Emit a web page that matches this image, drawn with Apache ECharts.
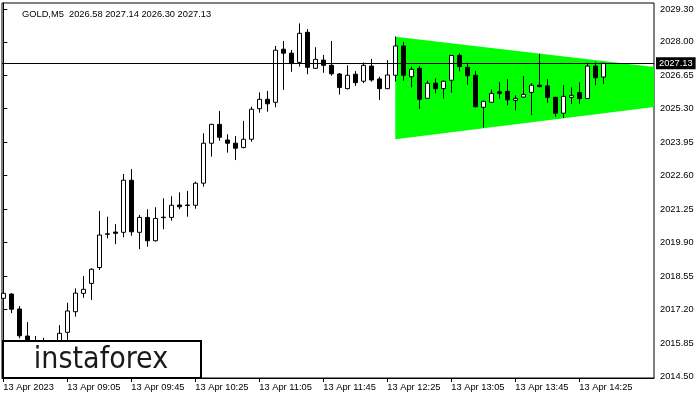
<!DOCTYPE html>
<html>
<head>
<meta charset="utf-8">
<script src="https://cdn.jsdelivr.net/npm/echarts@6/dist/echarts.min.js"></script>
<style>
html,body{margin:0;padding:0;background:#fff;}
#chart{width:700px;height:400px;}
</style>
</head>
<body>
<div id="chart"></div>
<script>
// ---- data ----
const symbolTitle = 'GOLD,M5  2026.58 2027.14 2026.30 2027.13';
const tickIndex = [0, 8, 16, 24, 32, 40, 48, 56, 64, 72];
const timeLabels = ['13 Apr 2023', '13 Apr 09:05', '13 Apr 09:45', '13 Apr 10:25', '13 Apr 11:05',
  '13 Apr 11:45', '13 Apr 12:25', '13 Apr 13:05', '13 Apr 13:45', '13 Apr 14:25'];
const priceTicks = [2014.50, 2015.85, 2017.20, 2018.55, 2019.90, 2021.25, 2022.60, 2023.95,
  2025.30, 2026.65, 2028.00, 2029.30];

const opens = [2017.66,2017.83,2017.23,2016.14,2015.70,2015.54,2015.70,2015.62,2016.29,2017.12,
  2017.86,2018.26,2018.90,2020.24,2020.33,2020.32,2022.42,2020.32,2020.92,2019.98,
  2020.91,2020.92,2021.42,2021.40,2021.41,2022.30,2023.91,2024.67,2024.04,2023.91,
  2023.74,2024.07,2025.30,2025.68,2025.56,2027.70,2027.54,2027.17,2028.38,2026.93,
  2027.26,2027.05,2026.70,2026.11,2026.69,2026.41,2027.02,2026.50,2026.11,2026.65,
  2027.83,2026.59,2026.93,2025.72,2026.33,2026.11,2026.45,2027.45,2026.97,2026.65,
  2025.36,2025.56,2025.98,2026.00,2025.64,2025.77,2025.96,2026.25,2026.22,2025.76,
  2025.12,2025.76,2025.95,2025.71,2027.02,2026.58];
const closes = [2017.86,2017.22,2016.15,2015.70,2015.50,2015.70,2015.54,2016.25,2017.15,2017.87,
  2018.02,2018.83,2020.21,2020.26,2020.28,2022.42,2020.34,2020.92,2019.98,2020.88,
  2020.93,2021.41,2021.35,2021.42,2022.30,2023.91,2024.67,2024.15,2023.91,2023.71,
  2024.07,2025.28,2025.68,2025.50,2027.66,2027.54,2027.12,2028.34,2026.97,2027.29,
  2027.05,2026.71,2026.16,2026.65,2026.35,2027.05,2026.46,2026.11,2026.66,2027.83,
  2026.65,2026.89,2025.68,2026.33,2026.11,2026.41,2027.45,2027.00,2026.63,2025.38,
  2025.60,2025.92,2025.92,2025.66,2025.72,2025.88,2026.25,2026.19,2025.76,2025.12,
  2025.80,2025.84,2025.71,2027.02,2026.55,2027.13];
const lows = [2017.27,2017.06,2016.05,2015.50,2015.33,2015.37,2015.25,2015.46,2015.86,2016.92,
  2017.68,2017.59,2018.80,2020.08,2019.84,2020.12,2020.18,2019.64,2019.74,2019.95,
  2020.44,2020.79,2021.25,2020.95,2021.27,2022.16,2023.37,2024.01,2023.53,2023.23,
  2023.70,2023.97,2025.14,2025.18,2025.36,2026.06,2026.79,2027.00,2026.69,2026.91,
  2026.75,2026.63,2025.87,2026.08,2026.22,2026.33,2026.39,2025.65,2026.09,2026.40,
  2026.43,2026.16,2025.30,2025.70,2025.92,2025.71,2025.95,2026.81,2026.27,2025.36,
  2024.54,2025.55,2025.71,2025.44,2025.24,2025.75,2025.04,2026.17,2025.54,2024.98,
  2024.92,2025.49,2025.49,2025.70,2026.25,2026.30];
const highs = [2017.88,2017.87,2017.35,2016.70,2016.14,2016.07,2015.86,2016.58,2017.48,2018.06,
  2018.56,2018.87,2021.18,2020.95,2020.65,2022.67,2022.87,2021.02,2021.25,2021.33,
  2021.69,2021.77,2021.93,2021.99,2022.36,2024.31,2024.69,2025.21,2024.27,2024.20,
  2024.81,2025.38,2025.96,2026.02,2027.83,2028.03,2027.67,2028.74,2028.51,2027.78,
  2027.47,2028.03,2026.74,2027.05,2026.82,2027.17,2027.31,2026.59,2027.26,2028.21,
  2027.99,2027.00,2027.02,2026.43,2026.53,2026.43,2027.47,2027.54,2027.16,2026.82,
  2025.62,2026.08,2026.38,2026.49,2025.84,2026.62,2026.33,2027.51,2026.49,2025.78,
  2026.25,2026.16,2026.37,2027.16,2027.17,2027.14];

// symmetrical triangle pattern (bar index, upper and lower price)
const triX = [49, 81.34];
const triTop = [2028.20, 2026.98];
const triBottom = [2024.07, 2025.37];

// ---- build ----
const candleData = opens.map((o, i) => [i, o, closes[i], lows[i], highs[i]]);
const lastClose = closes[closes.length - 1];
const FONT = "'Liberation Sans', Arial, sans-serif";
const FS = 9.3;

const chart = echarts.init(document.getElementById('chart'), null, {renderer: 'canvas'});
chart.setOption({
  animation: false,
  backgroundColor: '#fff',
  title: {
    text: symbolTitle, left: 17, top: 5,
    textStyle: {fontSize: FS, fontWeight: 'normal', color: '#000', fontFamily: FONT}
  },
  grid: {
    left: 2, right: 46, top: 3, bottom: 22,
    show: true, borderColor: '#000', borderWidth: 1, backgroundColor: '#fff'
  },
  xAxis: {
    type: 'value', min: -0.1625, max: 81.3375,
    axisLine: {show: true, onZero: false, lineStyle: {color: '#000', width: 1}},
    splitLine: {show: false},
    axisTick: {show: true, customValues: tickIndex, length: 4, lineStyle: {color: '#000'}},
    axisLabel: {
      customValues: tickIndex, align: 'left', margin: 5,
      fontSize: FS, color: '#000', fontFamily: FONT,
      formatter: v => timeLabels[tickIndex.indexOf(Math.round(v))] || ''
    }
  },
  yAxis: {
    type: 'value', position: 'right', min: 2014.448, max: 2029.562, scale: true,
    axisLine: {show: true, lineStyle: {color: '#000', width: 1}},
    splitLine: {show: false},
    axisTick: {show: true, customValues: priceTicks, length: 4, lineStyle: {color: '#000'}},
    axisLabel: {
      customValues: priceTicks, margin: 6,
      fontSize: FS, color: '#000', fontFamily: FONT,
      formatter: v => v.toFixed(2)
    }
  },
  series: [
    {
      type: 'custom', z: 1, silent: true,
      data: [[triX[0], triTop[0]]],
      renderItem: (params, api) => {
        const pts = [];
        for (let k = 0; k < triX.length; k++) pts.push(api.coord([triX[k], triTop[k]]));
        for (let k = triX.length - 1; k >= 0; k--) pts.push(api.coord([triX[k], triBottom[k]]));
        return {type: 'polygon', shape: {points: pts}, style: {fill: '#00ff00', stroke: null}};
      }
    },
    {
      type: 'candlestick', z: 3,
      data: candleData,
      barWidth: 5,
      itemStyle: {
        color: '#ffffff', color0: '#000000',
        borderColor: '#000000', borderColor0: '#000000', borderWidth: 1
      },
      markLine: {
        silent: true, symbol: ['none', 'none'],
        data: [{yAxis: lastClose}],
        lineStyle: {color: '#000', width: 1, type: 'solid'},
        label: {
          show: true, position: 'end', distance: 2,
          formatter: () => lastClose.toFixed(2),
          backgroundColor: '#000', color: '#fff', padding: [2, 3, 1, 3],
          fontSize: FS, fontFamily: FONT
        }
      }
    }
  ],
  graphic: [
    {
      type: 'rect', z: 100, x: 3, y: 341,
      shape: {x: 0, y: 0, width: 198, height: 37},
      style: {fill: '#fff', stroke: '#000', lineWidth: 2}
    },
    {
      type: 'text', z: 101, x: 101, y: 360,
      style: {
        text: 'instaforex', x: 0, y: 0, align: 'center', verticalAlign: 'middle',
        fill: '#1a1a1a', fontSize: 30,
        fontFamily: "'DejaVu Sans Condensed', 'DejaVu Sans', sans-serif"
      }
    }
  ]
});
</script>
</body>
</html>
